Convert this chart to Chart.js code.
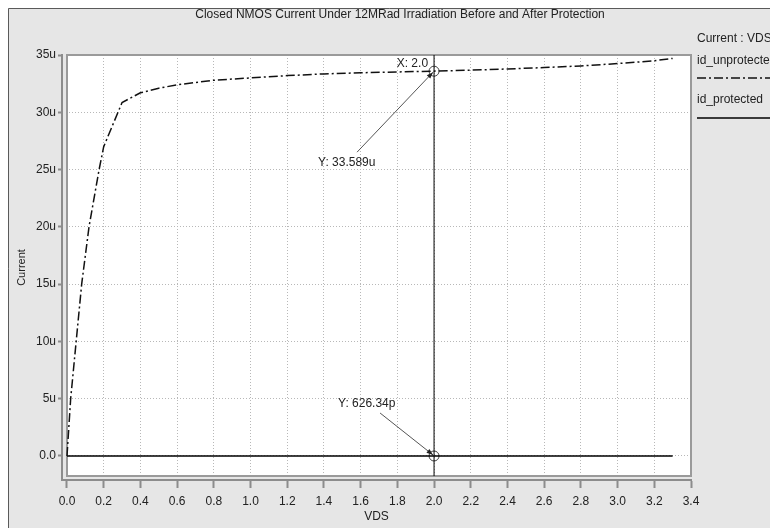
<!DOCTYPE html>
<html>
<head>
<meta charset="utf-8">
<script src="https://cdn.jsdelivr.net/npm/chart.js@4.4.1/dist/chart.umd.min.js"></script>
<style>
  html, body { margin: 0; padding: 0; background: #fff; }
  #wrap { width: 770px; height: 528px; }
</style>
</head>
<body>
<div id="wrap"><canvas id="nmosChart" width="770" height="528"></canvas></div>
<script>
// VDS sweep (V) and drain current (uA)
const vdsUnprotected = [0, 0.01, 0.02, 0.05, 0.08, 0.12, 0.175, 0.2, 0.3, 0.4, 0.5, 0.6, 0.8, 1.0, 1.2, 1.4, 1.6, 1.8, 2.0, 2.2, 2.4, 2.6, 2.8, 3.0, 3.2, 3.3];
const idUnprotected = [0, 2.5, 5, 10, 15, 20, 25, 27, 30.85, 31.7, 32.1, 32.4, 32.8, 33.0, 33.2, 33.35, 33.45, 33.52, 33.589, 33.68, 33.78, 33.9, 34.05, 34.25, 34.5, 34.7];
const vdsProtected = [0, 0.5, 1.0, 1.5, 2.0, 2.5, 3.0, 3.3];
const idProtected = [0, 0.0005, 0.00055, 0.0006, 0.00062634, 0.00064, 0.00066, 0.00068];

const xTicks = [0, 0.2, 0.4, 0.6, 0.8, 1.0, 1.2, 1.4, 1.6, 1.8, 2.0, 2.2, 2.4, 2.6, 2.8, 3.0, 3.2, 3.4];
const xTickLabels = ["0.0", "0.2", "0.4", "0.6", "0.8", "1.0", "1.2", "1.4", "1.6", "1.8", "2.0", "2.2", "2.4", "2.6", "2.8", "3.0", "3.2", "3.4"];
const yTicks = [0, 5, 10, 15, 20, 25, 30, 35];
const yTickLabels = ["0.0", "5u", "10u", "15u", "20u", "25u", "30u", "35u"];

// cursor readout
const cursorX = 2.0;
const cursorLabel = "X: 2.0";
const markerY = [33.589, 0.00062634];
const markerLabels = ["Y: 33.589u", "Y: 626.34p"];

const chartTitle = "Closed NMOS Current Under 12MRad Irradiation Before and After Protection";
const legendTitle = "Current : VDS";

// axis extents (the axes sit a few px off the white plot box)
const xMin = -0.0272, xMax = 3.4;
const yMin = -2.095, yMax = 35;
const yPlotBottom = -1.75;
const GAP_X = 5, GAP_Y = 4;

Chart.defaults.font.family = "'Liberation Sans', Arial, sans-serif";
Chart.defaults.font.size = 12;
Chart.defaults.color = "#222";

const framePlugin = {
    id: "frame",
    beforeDraw(chart) {
        const ctx = chart.ctx;
        const a = chart.chartArea;
        ctx.save();
        ctx.fillStyle = "#fff";
        ctx.fillRect(0, 0, chart.width, chart.height);
        ctx.fillStyle = "#e6e6e6";
        ctx.fillRect(8, 8, chart.width, chart.height);
        ctx.strokeStyle = "#5a5a5a";
        ctx.lineWidth = 1;
        ctx.beginPath();
        ctx.moveTo(8.5, chart.height);
        ctx.lineTo(8.5, 8.5);
        ctx.lineTo(chart.width, 8.5);
        ctx.stroke();
        // white plot box
        ctx.fillStyle = "#fff";
        ctx.fillRect(a.left + GAP_X, a.top, a.right - a.left - GAP_X, a.bottom - a.top - GAP_Y);
        ctx.restore();
    },
    beforeDatasetsDraw(chart) {
        const ctx = chart.ctx;
        const a = chart.chartArea;
        ctx.save();
        ctx.fillStyle = "#e6e6e6";
        ctx.fillRect(a.left + 1, a.top - 1, GAP_X - 1, a.bottom - a.top);
        ctx.fillRect(a.left + 1, a.bottom - GAP_Y, a.right - a.left + 2, GAP_Y - 1);
        ctx.strokeStyle = "#9a9a9a";
        ctx.lineWidth = 2;
        ctx.strokeRect(a.left + GAP_X, a.top, a.right - a.left - GAP_X, a.bottom - a.top - GAP_Y);
        ctx.restore();
    },
    afterDatasetsDraw(chart) {
        const ctx = chart.ctx;
        const pts = chart.getDatasetMeta(3).data;
        ctx.save();
        ctx.font = "12px 'Liberation Sans', Arial, sans-serif";
        ctx.fillStyle = "#222";
        ctx.textBaseline = "middle";
        const p0 = pts[0], p1 = pts[1];
        ctx.textAlign = "right";
        ctx.fillText(cursorLabel, p0.x - 6, p0.y - 7);
        ctx.textAlign = "left";
        ctx.fillText(markerLabels[0], p0.x - 116, p0.y + 92);
        ctx.fillText(markerLabels[1], p1.x - 96, p1.y - 52);
        const arrow = (sx, sy, ex, ey) => {
            ctx.strokeStyle = "#555";
            ctx.fillStyle = "#222";
            ctx.lineWidth = 1;
            ctx.beginPath();
            ctx.moveTo(sx, sy);
            ctx.lineTo(ex, ey);
            ctx.stroke();
            const ang = Math.atan2(ey - sy, ex - sx);
            ctx.beginPath();
            ctx.moveTo(ex, ey);
            ctx.lineTo(ex - 7 * Math.cos(ang - 0.35), ey - 7 * Math.sin(ang - 0.35));
            ctx.lineTo(ex - 7 * Math.cos(ang + 0.35), ey - 7 * Math.sin(ang + 0.35));
            ctx.closePath();
            ctx.fill();
        };
        arrow(p0.x - 77, p0.y + 81, p0.x - 1, p0.y + 1);
        arrow(p1.x - 54, p1.y - 43, p1.x - 1, p1.y - 1);
        ctx.restore();
    },
    afterDraw(chart) {
        const ctx = chart.ctx;
        const a = chart.chartArea;
        ctx.save();
        ctx.fillStyle = "#222";
        ctx.font = "12px 'Liberation Sans', Arial, sans-serif";
        ctx.textBaseline = "middle";
        ctx.textAlign = "center";
        ctx.fillText(chartTitle, 400, 15);
        ctx.textAlign = "left";
        const lx = a.right + 6;
        ctx.fillText(legendTitle, lx, 39);
        chart.data.datasets.forEach((ds, i) => {
            if (!ds.inLegend) return;
            ctx.fillStyle = "#222";
            ctx.fillText(ds.label, lx, 61 + 39 * i);
            ctx.strokeStyle = ds.borderColor;
            ctx.lineWidth = ds.borderWidth;
            ctx.setLineDash(ds.borderDash || []);
            ctx.beginPath();
            ctx.moveTo(lx, 78 + 40 * i);
            ctx.lineTo(chart.width, 78 + 40 * i);
            ctx.stroke();
            ctx.setLineDash([]);
        });
        ctx.restore();
    }
};

const ctx = document.getElementById("nmosChart").getContext("2d");
const nmosChart = new Chart(ctx, {
    type: "scatter",
    data: {
        datasets: [
            {
                label: "id_unprotected",
                inLegend: true,
                data: vdsUnprotected.map((x, i) => ({ x: x, y: idUnprotected[i] })),
                showLine: true,
                borderColor: "#111",
                borderWidth: 1.5,
                borderDash: [9, 3, 2, 3],
                pointRadius: 0,
                tension: 0,
            },
            {
                label: "id_protected",
                inLegend: true,
                data: vdsProtected.map((x, i) => ({ x: x, y: idProtected[i] })),
                showLine: true,
                borderColor: "#000",
                borderWidth: 1.5,
                pointRadius: 0,
            },
            {
                label: "cursor",
                data: [{ x: cursorX, y: yPlotBottom }, { x: cursorX, y: yMax }],
                showLine: true,
                borderColor: "#000",
                borderWidth: 1,
                pointRadius: 0,
            },
            {
                label: "markers",
                data: markerY.map((y) => ({ x: cursorX, y: y })),
                showLine: false,
                pointStyle: "circle",
                pointRadius: 5,
                borderColor: "#444",
                borderWidth: 1,
                backgroundColor: "rgba(0,0,0,0)",
            },
        ],
    },
    options: {
        responsive: false,
        animation: false,
        layout: {
            padding: { left: 0, top: 55, right: 79, bottom: 0 },
        },
        plugins: {
            legend: { display: false },
            tooltip: { enabled: false },
        },
        scales: {
            x: {
                type: "linear",
                min: xMin,
                max: xMax,
                afterBuildTicks: (s) => { s.ticks = xTicks.map((v) => ({ value: v })); },
                afterFit: (s) => { s.height = 48; },
                ticks: {
                    autoSkip: false,
                    maxRotation: 0,
                    padding: 6,
                    color: "#222",
                    callback: (v) => xTickLabels[xTicks.indexOf(v)],
                },
                grid: {
                    color: "#b8b8b8",
                    tickColor: "#8c8c8c",
                    tickLength: 8,
                    tickWidth: 2,
                    tickBorderDash: [],
                },
                border: { color: "#8c8c8c", width: 2, dash: [1, 2] },
                title: {
                    display: true,
                    text: "VDS",
                    color: "#222",
                    padding: { top: 0, bottom: 4 },
                },
            },
            y: {
                type: "linear",
                min: yMin,
                max: yMax,
                afterBuildTicks: (s) => { s.ticks = yTicks.map((v) => ({ value: v })); },
                afterFit: (s) => { s.width = 62; },
                ticks: {
                    padding: 2,
                    color: "#222",
                    callback: (v) => yTickLabels[yTicks.indexOf(v)],
                },
                grid: {
                    color: "#b8b8b8",
                    tickColor: "#8c8c8c",
                    tickLength: 4,
                    tickWidth: 2,
                    tickBorderDash: [],
                },
                border: { color: "#8c8c8c", width: 2, dash: [1, 2] },
                title: {
                    display: true,
                    text: "Current",
                    color: "#222",
                    font: { size: 11 },
                    padding: { top: 15, bottom: 0 },
                },
            },
        },
    },
    plugins: [framePlugin],
});
</script>
</body>
</html>
